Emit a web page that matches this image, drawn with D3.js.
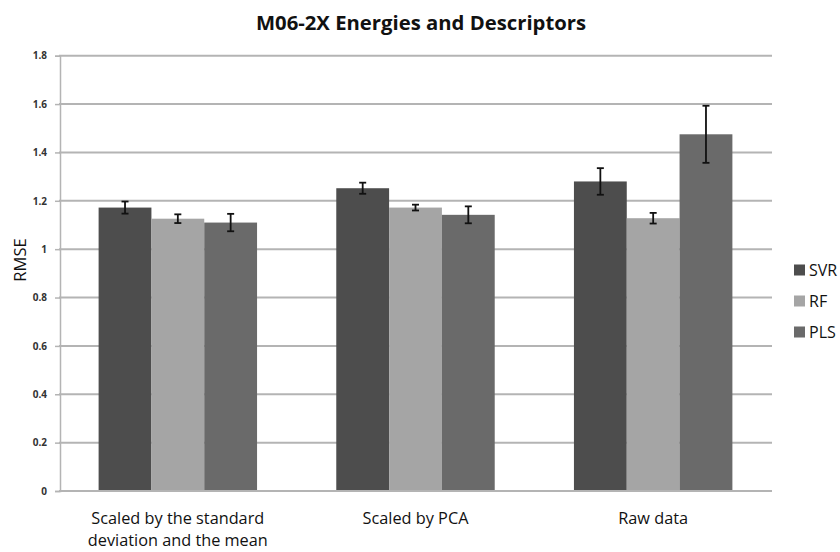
<!DOCTYPE html>
<html>
<head>
<meta charset="utf-8">
<script src="https://cdn.jsdelivr.net/npm/d3@7"></script>
<style>
  html, body { margin: 0; padding: 0; background: #fff; }
  svg { display: block; font-family: "Open Sans", Lato, sans-serif; }
</style>
</head>
<body>
<svg id="chart" width="840" height="552"></svg>
<script>
// Chart content
const title = "M06-2X Energies and Descriptors";
const yTitle = "RMSE";
const categories = ["Scaled by the standard\ndeviation and the mean", "Scaled by PCA", "Raw data"];
const series = ["SVR", "RF", "PLS"];
const seriesColors = ["#4d4d4d", "#a5a5a5", "#6a6a6a"];

// RMSE per category, one array per model
const svrValues = [1.172, 1.252, 1.280];
const rfValues  = [1.126, 1.172, 1.128];
const plsValues = [1.110, 1.142, 1.475];

// Error bar half-widths
const svrErrors = [0.025, 0.023, 0.055];
const rfErrors  = [0.018, 0.012, 0.022];
const plsErrors = [0.036, 0.035, 0.118];

const yTicks = [0, 0.2, 0.4, 0.6, 0.8, 1, 1.2, 1.4, 1.6, 1.8];
const yTickLabels = ["0", "0.2", "0.4", "0.6", "0.8", "1", "1.2", "1.4", "1.6", "1.8"];

const values = [svrValues, rfValues, plsValues];
const errors = [svrErrors, rfErrors, plsErrors];

const svg = d3.select("#chart");
const plot = { left: 59, right: 772, top: 55.7, bottom: 491 };

const y = d3.scaleLinear().domain([0, 1.8]).range([plot.bottom, plot.top]);
const x0 = d3.scaleBand().domain(categories).range([plot.left, plot.right])
  .paddingInner(1 / 3).paddingOuter(1 / 6);
const x1 = d3.scaleBand().domain(series).range([0, x0.bandwidth()]);

// Horizontal gridlines
svg.append("g")
  .selectAll("line")
  .data(yTicks.filter(d => d > 0))
  .join("line")
  .attr("x1", plot.left).attr("x2", plot.right)
  .attr("y1", d => y(d)).attr("y2", d => y(d))
  .attr("stroke", "#b4b4b4").attr("stroke-width", 2);

// Y axis
const yAxis = svg.append("g")
  .attr("transform", `translate(${plot.left + 1},0)`)
  .call(d3.axisLeft(y).tickValues(yTicks).tickSize(5).tickPadding(8)
    .tickFormat((d, i) => yTickLabels[i]));
yAxis.select(".domain").attr("stroke", "#b4b4b4").attr("stroke-width", 1.5);
yAxis.selectAll(".tick line").attr("stroke", "#b4b4b4").attr("stroke-width", 1.5);
yAxis.selectAll(".tick text")
  .attr("font-size", 10).attr("font-weight", "bold").attr("fill", "#333")
  .attr("font-family", "'Open Sans', sans-serif");

// Bars
const groups = svg.append("g")
  .selectAll("g")
  .data(categories)
  .join("g")
  .attr("transform", d => `translate(${x0(d)},0)`);

const barData = (c, ci) => series.map((s, si) => ({
  s, si, v: values[si][ci], e: errors[si][ci]
}));

groups.selectAll("rect")
  .data((c, ci) => barData(c, ci))
  .join("rect")
  .attr("x", d => x1(d.s))
  .attr("width", x1.bandwidth())
  .attr("y", d => y(d.v))
  .attr("height", d => y(0) - y(d.v))
  .attr("fill", d => seriesColors[d.si]);

// Error bars
const eb = groups.selectAll("g.err")
  .data((c, ci) => barData(c, ci))
  .join("g")
  .attr("class", "err")
  .attr("transform", d => `translate(${x1(d.s) + x1.bandwidth() / 2},0)`);
eb.append("line")
  .attr("y1", d => y(d.v + d.e)).attr("y2", d => y(d.v - d.e))
  .attr("stroke", "#111").attr("stroke-width", 1.8);
eb.selectAll("line.cap")
  .data(d => [d.v + d.e, d.v - d.e])
  .join("line")
  .attr("class", "cap")
  .attr("x1", -3.5).attr("x2", 3.5)
  .attr("y1", d => y(d)).attr("y2", d => y(d))
  .attr("stroke", "#111").attr("stroke-width", 1.8);

// X axis baseline
svg.append("line")
  .attr("x1", plot.left).attr("x2", plot.right)
  .attr("y1", plot.bottom).attr("y2", plot.bottom)
  .attr("stroke", "#b4b4b4").attr("stroke-width", 2);

// Category labels
svg.append("g")
  .selectAll("text")
  .data(categories)
  .join("text")
  .attr("x", d => x0(d) + x0.bandwidth() / 2)
  .attr("y", 524)
  .attr("text-anchor", "middle")
  .attr("font-size", 16.3)
  .attr("fill", "#111")
  .selectAll("tspan")
  .data(d => d.split("\n"))
  .join("tspan")
  .attr("x", function () { return d3.select(this.parentNode).attr("x"); })
  .attr("dy", (d, i) => i === 0 ? 0 : 22)
  .text(d => d);

// Title
svg.append("text")
  .attr("x", 421).attr("y", 30)
  .attr("text-anchor", "middle")
  .attr("font-size", 20.3).attr("font-weight", "bold").attr("fill", "#111")
  .text(title);

// Y axis title
svg.append("text")
  .attr("transform", "translate(26,260) rotate(-90)")
  .attr("text-anchor", "middle")
  .attr("font-size", 16.5).attr("fill", "#111")
  .text(yTitle);

// Legend
const legend = svg.append("g")
  .selectAll("g")
  .data(series)
  .join("g")
  .attr("transform", (d, i) => `translate(794,${270 + i * 31})`);
legend.append("rect")
  .attr("x", 0).attr("y", -5.5).attr("width", 11).attr("height", 11)
  .attr("fill", (d, i) => seriesColors[i]);
legend.append("text")
  .attr("x", 15).attr("y", 6)
  .attr("font-size", 16).attr("fill", "#111")
  .text(d => d);
</script>
</body>
</html>
